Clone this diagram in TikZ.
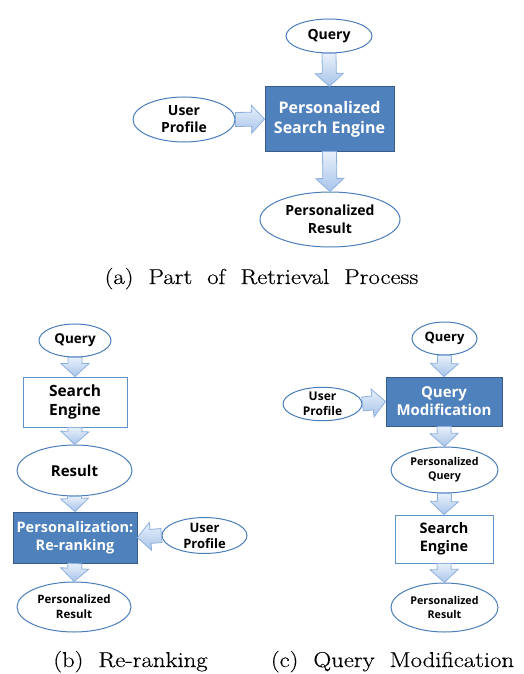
\documentclass[tikz,border=0pt]{standalone}
\usepackage{fontspec}
\newfontfamily\diagfont{Open Sans}
\newfontfamily\capfont{Latin Modern Roman}[FakeStretch=1.15, FakeBold=0.4]
\usetikzlibrary{shapes.geometric,calc}

\definecolor{ellline}{RGB}{74,126,187}
\definecolor{wboxline}{RGB}{96,146,204}
\definecolor{boxfill}{RGB}{79,129,189}
\definecolor{boxline}{RGB}{56,93,138}
\definecolor{arrowtop}{RGB}{232,240,250}
\definecolor{arrowbot}{RGB}{168,196,234}
\definecolor{arrowline}{RGB}{140,176,222}

\newcommand{\dfont}[2]{\diagfont\bfseries\fontsize{#1}{#2}\selectfont}
\newcommand{\capstyle}{\capfont\fontsize{21.5}{26}\selectfont\spaceskip=15pt\relax}

\begin{document}
\begin{tikzpicture}[x=1pt, y=-1pt,
    every node/.style={align=center, inner sep=0pt},
    ell/.style={draw=ellline, line width=1pt, fill=white, ellipse},
    bluebox/.style={draw=boxline, line width=1pt, fill=boxfill, text=white},
    whitebox/.style={draw=wboxline, line width=0.9pt, fill=white},
    caption/.style={font=\capstyle, anchor=base},
    fat/.style={draw=arrowline, line width=0.8pt, top color=arrowtop, bottom color=arrowbot,
      to path={let \p1=(\tikztostart), \p2=(\tikztotarget),
        \n1={atan2(\y2-\y1,\x2-\x1)}, \n2={veclen(\x2-\x1,\y2-\y1)} in
        {[shift={(\p1)}, rotate=\n1]
          (0pt,-7pt) -- ({\n2*1pt-13pt},-7pt) -- ({\n2*1pt-13pt},-14pt) -- ({\n2*1pt},0pt)
          -- ({\n2*1pt-13pt},14pt) -- ({\n2*1pt-13pt},7pt) -- (0pt,7pt) -- cycle}}}]
    \useasboundingbox (0,0) rectangle (523,674);

    % (a) part of retrieval process
    \node[ell, minimum width=86, minimum height=34, font=\dfont{14}{17}] (aq) at (329,36) {Query};
    \node[bluebox, minimum width=129, minimum height=64, font=\dfont{16}{20}] (aeng) at (329.5,119) {Personalized\\Search Engine};
    \node[ell, minimum width=102, minimum height=45, font=\dfont{14}{17}] (aup) at (184,119.5) {User\\Profile};
    \node[ell, minimum width=140, minimum height=55, font=\dfont{14}{18}] (ares) at (330,219.5) {Personalized\\Result};
    \draw[fat] (aq.south) to (aeng.north);
    \draw[fat] (aup.east) to (aeng.west);
    \draw[fat] (aeng.south) to (ares.north);
    \node[caption] (capa) at (261.5,284) {(a) Part of Retrieval Process};

    % (b) re-ranking
    \node[ell, minimum width=72, minimum height=33, font=\dfont{13.5}{16}] (bq) at (75,340.5) {Query};
    \node[whitebox, minimum width=104, minimum height=50, font=\dfont{15.5}{19}] (beng) at (75,402) {Search\\Engine};
    \node[ell, minimum width=115, minimum height=51, font=\dfont{15}{18}] (bres) at (74.5,470.5) {Result};
    \node[bluebox, minimum width=124, minimum height=51, font=\dfont{14.5}{18}] (brr) at (75,537.5) {Personalization:\\Re-ranking};
    \node[ell, minimum width=85, minimum height=35, font=\dfont{13}{16}] (bup) at (204.5,535.5) {User\\Profile};
    \node[ell, minimum width=114, minimum height=50, font=\dfont{11.5}{15}] (bpr) at (74,607) {Personalized\\Result};
    \draw[fat] (bq.south) to (beng.north);
    \draw[fat] (beng.south) to (bres.north);
    \draw[fat] (bres.south) to (brr.north);
    \draw[fat] (bup.west) to (brr.east);
    \draw[fat] (brr.south) to (bpr.north);
    \node[caption] (capb) at (130.5,667) {(b) Re-ranking};

    % (c) query modification
    \node[ell, minimum width=65, minimum height=33, font=\dfont{13}{16}] (cq) at (444.5,338.5) {Query};
    \node[bluebox, minimum width=116, minimum height=49, font=\dfont{15}{18}] (cqm) at (444,401.5) {Query\\Modification};
    \node[ell, minimum width=79, minimum height=32, font=\dfont{12}{15}] (cup) at (322.5,404) {User\\Profile};
    \node[ell, minimum width=107, minimum height=46, font=\dfont{10.7}{14}] (cpq) at (444.5,470) {Personalized\\Query};
    \node[whitebox, minimum width=98, minimum height=48, font=\dfont{14.5}{18}] (cse) at (444,539) {Search\\Engine};
    \node[ell, minimum width=107, minimum height=49, font=\dfont{10.7}{14}] (cpr) at (444.5,607.5) {Personalized\\Result};
    \draw[fat] (cq.south) to (cqm.north);
    \draw[fat] (cup.east) to (cqm.west);
    \draw[fat] (cqm.south) to (cpq.north);
    \draw[fat] (cpq.south) to (cse.north);
    \draw[fat] (cse.south) to (cpr.north);
    \node[caption] (capc) at (392.5,667) {(c) Query Modification};
\end{tikzpicture}
\end{document}
